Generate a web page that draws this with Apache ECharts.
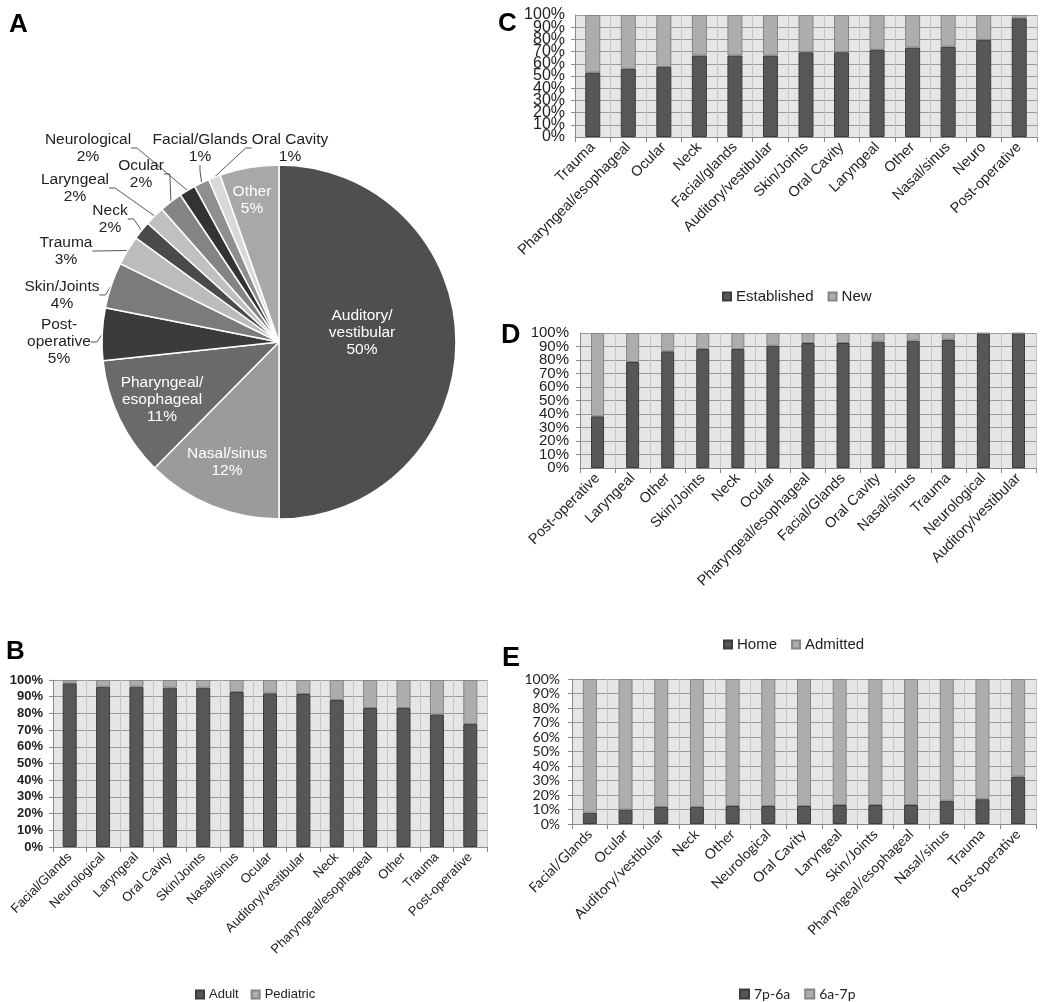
<!DOCTYPE html>
<html><head><meta charset="utf-8">
<script src="https://cdn.jsdelivr.net/npm/echarts@6/dist/echarts.min.js"></script>
<style>html,body{margin:0;padding:0;background:#fff}#c{width:1050px;height:1002px}</style>
</head><body><div id="c"></div>
<script>
// ---- Panel A data ----
const pieNames = ['Auditory/vestibular','Nasal/sinus','Pharyngeal/esophageal','Post-operative','Skin/Joints','Trauma','Neck','Laryngeal','Ocular','Neurological','Facial/Glands','Oral Cavity','Other'];
const pieLabelText = ['Auditory/\nvestibular','Nasal/sinus','Pharyngeal/\nesophageal','Post-\noperative','Skin/Joints','Trauma','Neck','Laryngeal','Ocular','Neurological','Facial/Glands','Oral Cavity','Other'];
const pieValues = [50, 12.4, 10.9, 4.8, 4.2, 2.7, 1.7, 1.8, 2.1, 1.5, 1.4, 1.1, 5.4];

// ---- Panel B data ----
const bCats = ['Facial/Glands','Neurological','Laryngeal','Oral Cavity','Skin/Joints','Nasal/sinus','Ocular','Auditory/vestibular','Neck','Pharyngeal/esophageal','Other','Trauma','Post-operative'];
const bAdult = [98, 96, 96, 95.4, 95.4, 92.8, 92, 91.6, 88, 83.2, 83.2, 79.4, 73.6];
const bPediatric = [2, 4, 4, 4.6, 4.6, 7.2, 8, 8.4, 12, 16.8, 16.8, 20.6, 26.4];

// ---- Panel C data ----
const cCats = ['Trauma','Pharyngeal/esophageal','Ocular','Neck','Facial/glands','Auditory/vestibular','Skin/Joints','Oral Cavity','Laryngeal','Other','Nasal/sinus','Neuro','Post-operative'];
const cEstablished = [52.9, 55.9, 57.5, 66.8, 66.8, 66.8, 69.5, 69.5, 71.4, 73.3, 74.1, 79.6, 97.3];
const cNew = [47.1, 44.1, 42.5, 33.2, 33.2, 33.2, 30.5, 30.5, 28.6, 26.7, 25.9, 20.4, 2.7];

// ---- Panel D data ----
const dCats = ['Post-operative','Laryngeal','Other','Skin/Joints','Neck','Ocular','Pharyngeal/esophageal','Facial/Glands','Oral Cavity','Nasal/sinus','Trauma','Neurological','Auditory/vestibular'];
const dHome = [38.3, 78.5, 86.4, 88.1, 88.1, 90.6, 92.6, 92.6, 93.6, 94.3, 95.1, 99.6, 99.6];
const dAdmitted = [61.7, 21.5, 13.6, 11.9, 11.9, 9.4, 7.4, 7.4, 6.4, 5.7, 4.9, 0.4, 0.4];

// ---- Panel E data ----
const eCats = ['Facial/Glands','Ocular','Auditory/vestibular','Neck','Other','Neurological','Oral Cavity','Laryngeal','Skin/Joints','Pharyngeal/esophageal','Nasal/sinus','Trauma','Post-operative'];
const eNight = [7.8, 9.9, 11.8, 11.8, 12.4, 12.4, 12.4, 13.1, 13.1, 13.1, 16.1, 17.1, 32.7];
const eDay = [92.2, 90.1, 88.2, 88.2, 87.6, 87.6, 87.6, 86.9, 86.9, 86.9, 83.9, 82.9, 67.3];

// ---- styles / layout (not data) ----
const pieColors = ['#4f4f4f','#9b9b9b','#6a6a6a','#3b3b3b','#7b7b7b','#bcbcbc','#4a4a4a','#c0c0c0','#848484','#333333','#8f8f8f','#d9d9d9','#a8a8a8'];
const insideIdx = [0,1,2,12];
const labelPos = {0:[362,333],1:[227,462],2:[162,400],12:[252,200],
  3:[59,342],4:[62,295],5:[66,251],6:[110,219],7:[75,188],8:[141,174],9:[88,148],10:[200,148],11:[290,148]};

const ARIAL = '"Liberation Sans", Arial, sans-serif';
const CAL = 'Lato, "Open Sans", sans-serif';
const DARK = {color:'#575757', borderColor:'#3c3c3c', borderWidth:1};
const LIGHT = {color:'#adadad', borderColor:'#848484', borderWidth:1};

const grids = [
  {left:53, top:680, width:434, height:167},
  {left:575, top:15, width:462, height:122},
  {left:580, top:333, width:456, height:135},
  {left:572, top:679, width:464, height:145}
];
const catsList = [bCats, cCats, dCats, eCats];
const fonts = [ARIAL, ARIAL, ARIAL, CAL];
const catSize = [13, 14.5, 14.5, 14];
const ySize = [13, 16, 15, 14];
const yMargin = [10, 10, 11, 12];
const denseAxis = [false, true, true, false];

function yLabel(i){
  return {formatter:'{value}%', fontSize:ySize[i], fontFamily:fonts[i], color:'#222', margin:yMargin[i],
    fontWeight: i===0 ? 'bold' : 'normal', hideOverlap:false};
}
const yAxes = catsList.map((cats,i) => ({
  type:'value', gridIndex:i, min:0, max:100, interval:10,
  axisLine:{show:true, lineStyle:{color:'#8a8a8a'}},
  axisTick:{show:true, length:4, lineStyle:{color:'#8a8a8a'}},
  splitLine:{lineStyle:{color:'#9a9a9a'}},
  axisLabel:Object.assign(yLabel(i), denseAxis[i] ? {showMinLabel:false, showMaxLabel:false} : {showMinLabel:true, showMaxLabel:true})
}));
// extra axes carrying only the 0% / 100% labels on the dense panels
[1,2].forEach(i => yAxes.push({
  type:'value', gridIndex:i, position:'left', min:0, max:100, interval:100,
  axisLine:{show:false}, axisTick:{show:false}, splitLine:{show:false},
  axisLabel:Object.assign(yLabel(i), {showMinLabel:true, showMaxLabel:true})
}));

const option = {
  animation:false,
  backgroundColor:'#fff',
  graphic:[
    {type:'text', left:9, top:12, style:{text:'A', font:'bold 26px '+ARIAL, fill:'#000'}},
    {type:'text', left:6, top:639, style:{text:'B', font:'bold 26px '+ARIAL, fill:'#000'}},
    {type:'text', left:498, top:11, style:{text:'C', font:'bold 26px '+ARIAL, fill:'#000'}},
    {type:'text', left:501, top:322, style:{text:'D', font:'bold 27px '+ARIAL, fill:'#000'}},
    {type:'text', left:502, top:645, style:{text:'E', font:'bold 27px '+ARIAL, fill:'#000'}}
  ],
  grid: grids.map(g => Object.assign({show:true, backgroundColor:'#e6e6e6', borderWidth:0}, g)),
  xAxis: catsList.map((cats,i) => ({
    type:'category', gridIndex:i, data:cats,
    axisLine:{lineStyle:{color:'#8a8a8a'}},
    axisTick:{show:true, length:5, interval:0, lineStyle:{color:'#8a8a8a'}},
    splitLine:{show:true, interval:0, lineStyle:{color:'#c4c4c4'}},
    axisLabel:{rotate:45, interval:0, fontSize:catSize[i], fontFamily:fonts[i], color:'#222', margin:8}
  })),
  yAxis: yAxes,
  legend:[
    {data:['Adult','Pediatric'], icon:'rect', left:190, top:983, itemWidth:8, itemHeight:8, itemGap:12, textStyle:{fontSize:13, fontFamily:ARIAL, color:'#222'}},
    {data:['Established','New'], icon:'rect', left:717, top:284, itemWidth:8, itemHeight:8, itemGap:14, textStyle:{fontSize:15, fontFamily:ARIAL, color:'#222'}},
    {data:['Home','Admitted'], icon:'rect', left:718, top:632, itemWidth:8, itemHeight:8, itemGap:14, textStyle:{fontSize:15, fontFamily:ARIAL, color:'#222'}},
    {data:['7p-6a','6a-7p'], icon:'rect', left:734, top:982, itemWidth:9, itemHeight:9, itemGap:14, textStyle:{fontSize:14, fontFamily:CAL, color:'#222'}}
  ],
  series:[
    {
      type:'pie', center:[279,342], radius:177, startAngle:90, clockwise:true,
      avoidLabelOverlap:false,
      data: pieNames.map((n,i) => ({
        name:n, value:pieValues[i],
        itemStyle:{color:pieColors[i]},
        label: insideIdx.includes(i) ? {position:'inside', color:'#fff'} : {position:'outside', color:'#222'},
        labelLine: insideIdx.includes(i) ? {show:false} : {show:true, length:6, length2:6}
      })),
      itemStyle:{borderColor:'#fff', borderWidth:1.5},
      label:{fontSize:15.5, fontFamily:ARIAL, lineHeight:17, align:'center',
        formatter: p => pieLabelText[p.dataIndex] + '\n' + Math.round(p.value) + '%'},
      labelLine:{lineStyle:{color:'#555', width:1}},
      labelLayout: function(params){
        const p = labelPos[params.dataIndex];
        return {x:p[0], y:p[1], align:'center', verticalAlign:'middle'};
      }
    },
    {name:'Adult', type:'bar', stack:'b', xAxisIndex:0, yAxisIndex:0, data:bAdult, barWidth:14, itemStyle:DARK},
    {name:'Pediatric', type:'bar', stack:'b', xAxisIndex:0, yAxisIndex:0, data:bPediatric, barWidth:14, itemStyle:LIGHT},
    {name:'Established', type:'bar', stack:'c', xAxisIndex:1, yAxisIndex:1, data:cEstablished, barWidth:15, itemStyle:DARK},
    {name:'New', type:'bar', stack:'c', xAxisIndex:1, yAxisIndex:1, data:cNew, barWidth:15, itemStyle:LIGHT},
    {name:'Home', type:'bar', stack:'d', xAxisIndex:2, yAxisIndex:2, data:dHome, barWidth:13, itemStyle:DARK},
    {name:'Admitted', type:'bar', stack:'d', xAxisIndex:2, yAxisIndex:2, data:dAdmitted, barWidth:13, itemStyle:LIGHT},
    {name:'7p-6a', type:'bar', stack:'e', xAxisIndex:3, yAxisIndex:3, data:eNight, barWidth:14, itemStyle:DARK},
    {name:'6a-7p', type:'bar', stack:'e', xAxisIndex:3, yAxisIndex:3, data:eDay, barWidth:14, itemStyle:LIGHT}
  ]
};
const chart = echarts.init(document.getElementById('c'), null, {renderer:'canvas'});
chart.setOption(option);
</script></body></html>
